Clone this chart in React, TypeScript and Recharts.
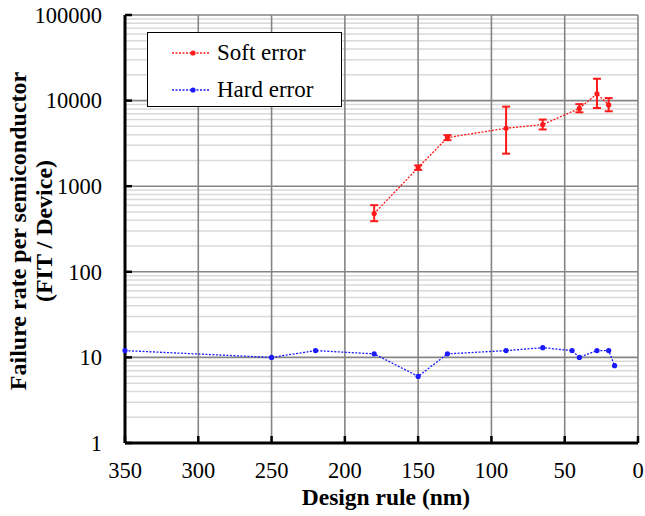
import React from 'react';
import {
  LineChart,
  Line,
  XAxis,
  YAxis,
  CartesianGrid,
  ErrorBar,
  Legend,
} from 'recharts';

// Soft error (red) with asymmetric error bars
const softRule = [180, 150, 130, 90, 65, 40, 28, 20];
const softRate = [480, 1650, 3700, 4750, 5250, 8100, 12000, 8900];
const softLow = [390, 1550, 3450, 2400, 4600, 7300, 8200, 7500];
const softHigh = [600, 1750, 3950, 8500, 6000, 9100, 18000, 10700];

// Hard error (blue)
const hardRule = [350, 250, 220, 180, 150, 130, 90, 65, 45, 40, 28, 20, 16];
const hardRate = [12, 10, 12, 11, 6, 11, 12, 13, 12, 10, 12, 12, 8];

const xTicks = [0, 50, 100, 150, 200, 250, 300, 350];
const yTicks = [1, 10, 100, 1000, 10000, 100000];

const softData = softRule.map((x, i) => ({
  x,
  y: softRate[i],
  err: [softRate[i] - softLow[i], softHigh[i] - softRate[i]],
}));
const hardData = hardRule.map((x, i) => ({ x, y: hardRate[i] }));

// minor log gridlines (2..9 per decade)
const minorLines: number[] = [];
for (let d = 1; d < 100000; d *= 10) {
  for (let k = 2; k <= 9; k++) minorLines.push(d * k);
}

const FONT = "'Liberation Serif', 'Times New Roman', serif";
const W = 645;
const H = 516;
const PLOT_LEFT = 125;
const PLOT_BOTTOM = 443;

const YTick = (props: any) => {
  const { y, payload } = props;
  return (
    <g>
      <line x1={PLOT_LEFT} x2={PLOT_LEFT + 7} y1={y} y2={y} stroke="#000" strokeWidth={2.5} />
      <text x={PLOT_LEFT - 23} y={y} dy="0.35em" textAnchor="end" style={{ fontFamily: FONT, fontSize: 22.5 }} fill="#000">
        {payload.value}
      </text>
    </g>
  );
};

const XTick = (props: any) => {
  const { x, payload } = props;
  return (
    <g>
      <line x1={x} x2={x} y1={PLOT_BOTTOM} y2={PLOT_BOTTOM - 7} stroke="#000" strokeWidth={2.5} />
      <text x={x} y={478} textAnchor="middle" style={{ fontFamily: FONT, fontSize: 22.5 }} fill="#000">
        {payload.value}
      </text>
    </g>
  );
};

const YLabel = () => (
  <g style={{ fontFamily: FONT, fontSize: 24, fontWeight: 'bold' }} fill="#000">
    <text x={18} y={231} transform="rotate(-90 18 231)" textAnchor="middle" dominantBaseline="central">
      Failure rate per semiconductor
    </text>
    <text x={44} y={231} transform="rotate(-90 44 231)" textAnchor="middle" dominantBaseline="central">
      (FIT / Device)
    </text>
  </g>
);

const XLabel = () => (
  <text
    x={386}
    y={505}
    textAnchor="middle"
    style={{ fontFamily: FONT, fontSize: 23.5, fontWeight: 'bold' }}
    fill="#000"
  >
    Design rule (nm)
  </text>
);

const LegendBox = () => {
  const items = [
    { name: 'Soft error', color: '#ff1a1a' },
    { name: 'Hard error', color: '#1a1aff' },
  ];
  return (
    <div
      style={{
        width: 195,
        height: 75,
        boxSizing: 'border-box',
        border: '1.5px solid #000',
        background: '#fff',
        paddingTop: 4,
        fontFamily: FONT,
        fontSize: 23,
        color: '#000',
      }}
    >
      {items.map((it) => (
        <div key={it.name} style={{ display: 'flex', alignItems: 'center', height: 32, marginBottom: 5 }}>
          <svg width={68} height={12} style={{ flex: 'none' }}>
            <line x1={24} x2={62} y1={6} y2={6} stroke={it.color} strokeWidth={1.3} strokeDasharray="2 1.5" />
            <circle cx={45} cy={6} r={2.6} fill={it.color} />
          </svg>
          <span style={{ marginLeft: 1 }}>{it.name}</span>
        </div>
      ))}
    </div>
  );
};

export default function App() {
  return (
    <div style={{ position: 'absolute', left: 0, top: 0, width: W, height: H, background: '#fff' }}>
      <LineChart width={W} height={H} margin={{ top: 15, right: 7, left: 0, bottom: 0 }}>
        <CartesianGrid
          horizontalValues={minorLines}
          vertical={false}
          stroke="#d9d9d9"
          strokeWidth={1.5}
        />
        <CartesianGrid stroke="#858585" strokeWidth={1.6} />
        <XAxis
          type="number"
          dataKey="x"
          domain={[0, 350]}
          ticks={xTicks}
          reversed
          height={73}
          tickLine={false}
          tickSize={0}
          axisLine={{ stroke: '#000', strokeWidth: 3 }}
          tick={<XTick />}
          interval={0}
          label={<XLabel />}
        />
        <YAxis
          type="number"
          scale="log"
          domain={[1, 100000]}
          ticks={yTicks}
          allowDataOverflow
          width={125}
          tickLine={false}
          tickSize={0}
          axisLine={{ stroke: '#000', strokeWidth: 3 }}
          tick={<YTick />}
          interval={0}
          label={<YLabel />}
        />
        <Legend
          layout="vertical"
          align="center"
          verticalAlign="middle"
          content={<LegendBox />}
          wrapperStyle={{ left: 147, top: 32, width: 195, height: 75 }}
        />
        <Line
          data={hardData}
          dataKey="y"
          name="Hard error"
          stroke="#1a1aff"
          strokeWidth={1.3}
          strokeDasharray="2 1.5"
          dot={{ r: 2.6, fill: '#1a1aff', stroke: 'none' }}
          activeDot={false}
          isAnimationActive={false}
        />
        <Line
          data={softData}
          dataKey="y"
          name="Soft error"
          stroke="#ff1a1a"
          strokeWidth={1.3}
          strokeDasharray="2 1.5"
          dot={{ r: 2.6, fill: '#ff1a1a', stroke: 'none' }}
          activeDot={false}
          isAnimationActive={false}
        >
          <ErrorBar dataKey="err" direction="y" width={4} stroke="#ff1a1a" strokeWidth={2} isAnimationActive={false} />
        </Line>
      </LineChart>
    </div>
  );
}
